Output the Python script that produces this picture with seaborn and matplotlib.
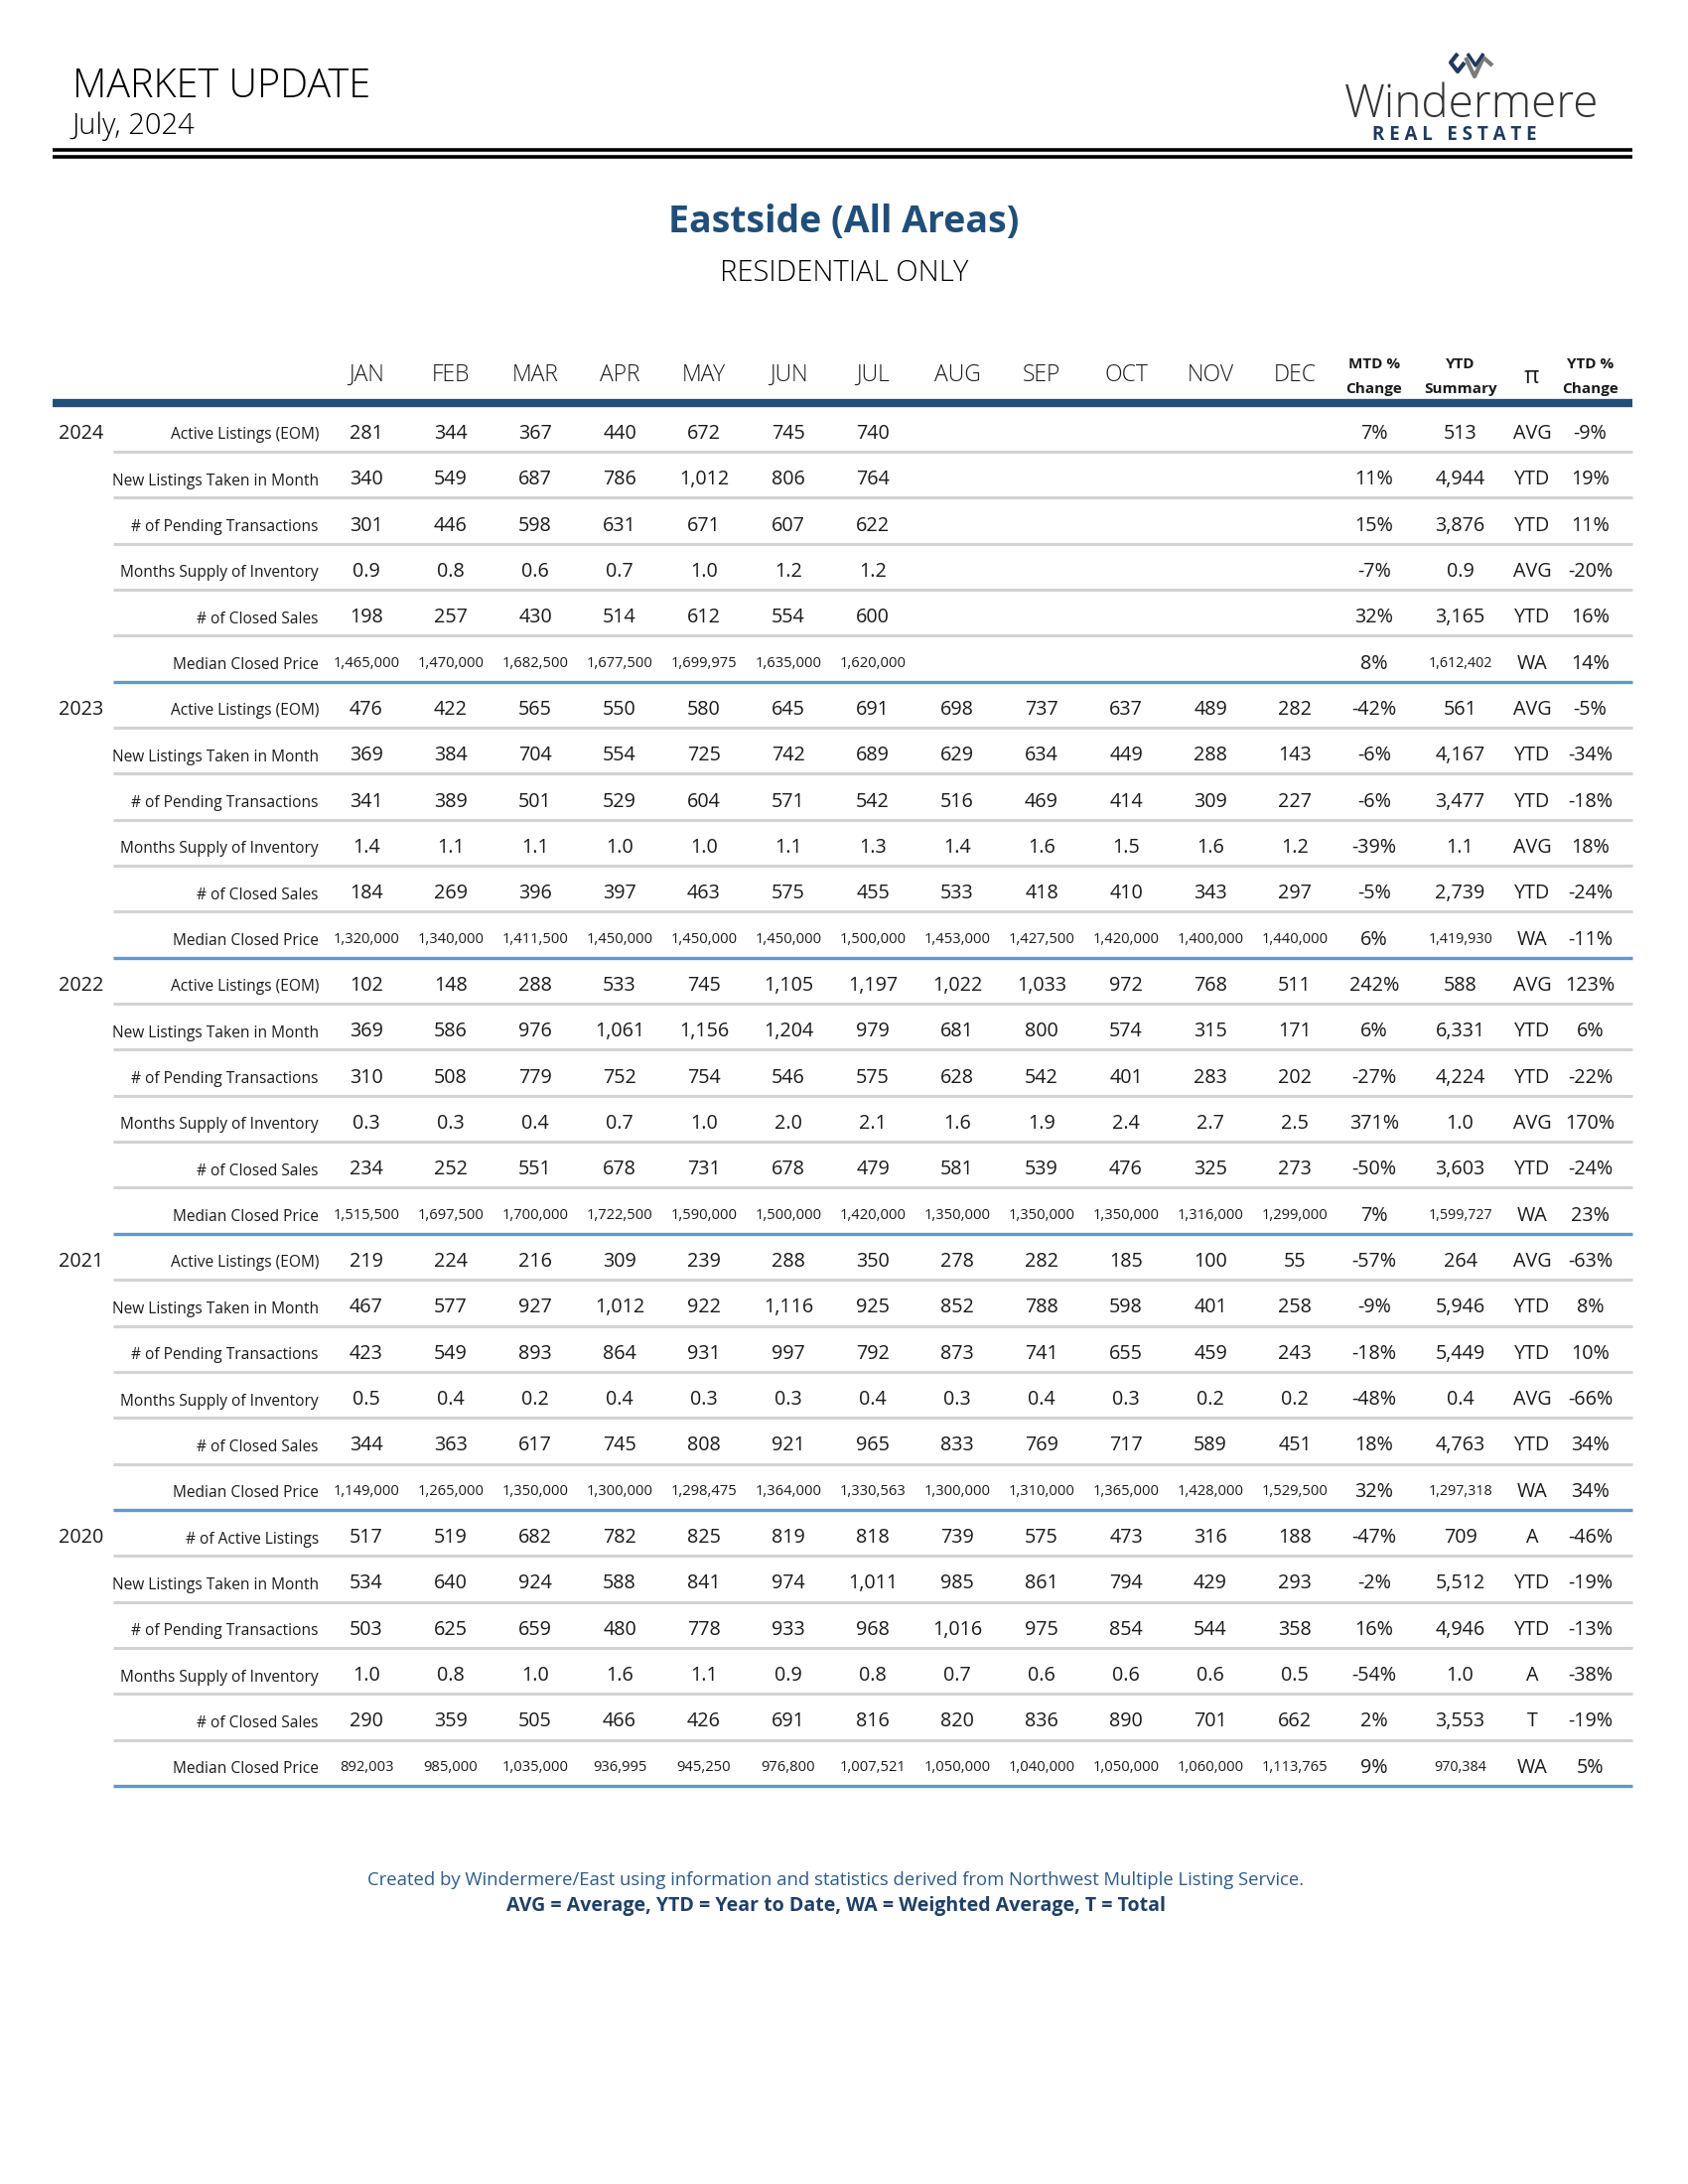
import numpy as np
import seaborn as sns
import matplotlib.pyplot as plt
from matplotlib.colors import ListedColormap

# ---- data ----
months = ["JAN", "FEB", "MAR", "APR", "MAY", "JUN", "JUL", "AUG", "SEP", "OCT", "NOV", "DEC"]
row_names = ["Active Listings (EOM)", "New Listings Taken in Month", "# of Pending Transactions",
             "Months Supply of Inventory", "# of Closed Sales", "Median Closed Price"]
row_names_2020 = ["# of Active Listings"] + row_names[1:]

# 2024 (through July)
active_2024 = [281, 344, 367, 440, 672, 745, 740]
new_2024 = [340, 549, 687, 786, 1012, 806, 764]
pending_2024 = [301, 446, 598, 631, 671, 607, 622]
supply_2024 = [0.9, 0.8, 0.6, 0.7, 1.0, 1.2, 1.2]
closed_2024 = [198, 257, 430, 514, 612, 554, 600]
price_2024 = [1465000, 1470000, 1682500, 1677500, 1699975, 1635000, 1620000]
mtd_2024 = [7, 11, 15, -7, 32, 8]
ytd_2024 = [513, 4944, 3876, 0.9, 3165, 1612402]
kind_2024 = ["AVG", "YTD", "YTD", "AVG", "YTD", "WA"]
ytdpct_2024 = [-9, 19, 11, -20, 16, 14]

# 2023
active_2023 = [476, 422, 565, 550, 580, 645, 691, 698, 737, 637, 489, 282]
new_2023 = [369, 384, 704, 554, 725, 742, 689, 629, 634, 449, 288, 143]
pending_2023 = [341, 389, 501, 529, 604, 571, 542, 516, 469, 414, 309, 227]
supply_2023 = [1.4, 1.1, 1.1, 1.0, 1.0, 1.1, 1.3, 1.4, 1.6, 1.5, 1.6, 1.2]
closed_2023 = [184, 269, 396, 397, 463, 575, 455, 533, 418, 410, 343, 297]
price_2023 = [1320000, 1340000, 1411500, 1450000, 1450000, 1450000, 1500000, 1453000,
              1427500, 1420000, 1400000, 1440000]
mtd_2023 = [-42, -6, -6, -39, -5, 6]
ytd_2023 = [561, 4167, 3477, 1.1, 2739, 1419930]
kind_2023 = ["AVG", "YTD", "YTD", "AVG", "YTD", "WA"]
ytdpct_2023 = [-5, -34, -18, 18, -24, -11]

# 2022
active_2022 = [102, 148, 288, 533, 745, 1105, 1197, 1022, 1033, 972, 768, 511]
new_2022 = [369, 586, 976, 1061, 1156, 1204, 979, 681, 800, 574, 315, 171]
pending_2022 = [310, 508, 779, 752, 754, 546, 575, 628, 542, 401, 283, 202]
supply_2022 = [0.3, 0.3, 0.4, 0.7, 1.0, 2.0, 2.1, 1.6, 1.9, 2.4, 2.7, 2.5]
closed_2022 = [234, 252, 551, 678, 731, 678, 479, 581, 539, 476, 325, 273]
price_2022 = [1515500, 1697500, 1700000, 1722500, 1590000, 1500000, 1420000, 1350000,
              1350000, 1350000, 1316000, 1299000]
mtd_2022 = [242, 6, -27, 371, -50, 7]
ytd_2022 = [588, 6331, 4224, 1.0, 3603, 1599727]
kind_2022 = ["AVG", "YTD", "YTD", "AVG", "YTD", "WA"]
ytdpct_2022 = [123, 6, -22, 170, -24, 23]

# 2021
active_2021 = [219, 224, 216, 309, 239, 288, 350, 278, 282, 185, 100, 55]
new_2021 = [467, 577, 927, 1012, 922, 1116, 925, 852, 788, 598, 401, 258]
pending_2021 = [423, 549, 893, 864, 931, 997, 792, 873, 741, 655, 459, 243]
supply_2021 = [0.5, 0.4, 0.2, 0.4, 0.3, 0.3, 0.4, 0.3, 0.4, 0.3, 0.2, 0.2]
closed_2021 = [344, 363, 617, 745, 808, 921, 965, 833, 769, 717, 589, 451]
price_2021 = [1149000, 1265000, 1350000, 1300000, 1298475, 1364000, 1330563, 1300000,
              1310000, 1365000, 1428000, 1529500]
mtd_2021 = [-57, -9, -18, -48, 18, 32]
ytd_2021 = [264, 5946, 5449, 0.4, 4763, 1297318]
kind_2021 = ["AVG", "YTD", "YTD", "AVG", "YTD", "WA"]
ytdpct_2021 = [-63, 8, 10, -66, 34, 34]

# 2020
active_2020 = [517, 519, 682, 782, 825, 819, 818, 739, 575, 473, 316, 188]
new_2020 = [534, 640, 924, 588, 841, 974, 1011, 985, 861, 794, 429, 293]
pending_2020 = [503, 625, 659, 480, 778, 933, 968, 1016, 975, 854, 544, 358]
supply_2020 = [1.0, 0.8, 1.0, 1.6, 1.1, 0.9, 0.8, 0.7, 0.6, 0.6, 0.6, 0.5]
closed_2020 = [290, 359, 505, 466, 426, 691, 816, 820, 836, 890, 701, 662]
price_2020 = [892003, 985000, 1035000, 936995, 945250, 976800, 1007521, 1050000,
              1040000, 1050000, 1060000, 1113765]
mtd_2020 = [-47, -2, 16, -54, 2, 9]
ytd_2020 = [709, 5512, 4946, 1.0, 3553, 970384]
kind_2020 = ["A", "YTD", "YTD", "A", "T", "WA"]
ytdpct_2020 = [-46, -19, -13, -38, -19, 5]

blocks = [
    (2024, row_names, [active_2024, new_2024, pending_2024, supply_2024, closed_2024, price_2024],
     mtd_2024, ytd_2024, kind_2024, ytdpct_2024),
    (2023, row_names, [active_2023, new_2023, pending_2023, supply_2023, closed_2023, price_2023],
     mtd_2023, ytd_2023, kind_2023, ytdpct_2023),
    (2022, row_names, [active_2022, new_2022, pending_2022, supply_2022, closed_2022, price_2022],
     mtd_2022, ytd_2022, kind_2022, ytdpct_2022),
    (2021, row_names, [active_2021, new_2021, pending_2021, supply_2021, closed_2021, price_2021],
     mtd_2021, ytd_2021, kind_2021, ytdpct_2021),
    (2020, row_names_2020, [active_2020, new_2020, pending_2020, supply_2020, closed_2020, price_2020],
     mtd_2020, ytd_2020, kind_2020, ytdpct_2020),
]

# ---- build the annotation grid ----
def fmt(v, k):
    return "{:.1f}".format(v) if k == 3 else "{:,}".format(v)

cells, labels, years = [], [], []
for yr, names, series, mtd, ytd, kind, ytdpct in blocks:
    for k in range(6):
        vals = [fmt(v, k) for v in series[k]]
        vals += [""] * (12 - len(vals))
        vals += ["{}%".format(mtd[k]), fmt(ytd[k], k), kind[k], "{}%".format(ytdpct[k])]
        cells.append(vals)
        labels.append(names[k])
        years.append(str(yr) if k == 0 else "")
annot = np.array(cells)
nrows = len(cells)

# ---- style ----
sns.set_theme(style="white")
plt.rcParams["font.family"] = ["Open Sans", "DejaVu Sans"]

NAVY = "#22507a"
BLUE_LINE = "#6596cc"
GRAY_LINE = "#d3d3d3"
TXT = "#1a1a1a"
LIGHT = "light"

fig = plt.figure(figsize=(17, 22), dpi=100)

# table axes: x in column units (85 px each), y in row units (46.34 px each)
ax = fig.add_axes([53 / 1700, 1 - 1804 / 2200, (1644 - 53) / 1700, (1804 - 413.8) / 2200])
sns.heatmap(np.zeros(annot.shape), annot=annot, fmt="", cmap=ListedColormap(["white"]),
            cbar=False, xticklabels=False, yticklabels=False, ax=ax,
            annot_kws={"fontsize": 14.2, "color": TXT})
ax.set_xlim(-3.218, 15.5)
ax.set_ylim(nrows, 0)
ax.set_axis_off()

summary_x = [12.44, 13.46, 14.31, 15.0]
for t in ax.texts:
    x, y = t.get_position()
    j, i = int(x), int(y)
    if j >= 12:
        t.set_x(summary_x[j - 12])
    if i % 6 == 5 and (j < 12 or j == 13):
        t.set_fontsize(10.6 if j < 12 else 10.3)

# column headers
for j, m in enumerate(months):
    ax.text(j + 0.5, -0.78, m, ha="center", va="center", fontsize=16.5, color=TXT,
            fontweight=LIGHT)
for xx, top, bot in [(summary_x[0], "MTD %", "Change"), (summary_x[1], "YTD", "Summary"),
                     (summary_x[3], "YTD %", "Change")]:
    ax.text(xx, -1.01, top, ha="center", va="center", fontsize=11, fontweight="bold", color=TXT)
    ax.text(xx, -0.47, bot, ha="center", va="center", fontsize=11, fontweight="bold", color=TXT)
ax.text(summary_x[2], -0.72, "π", ha="center", va="center", fontsize=17, color=TXT)

# row labels and years
for i in range(nrows):
    ax.text(-0.065, i + 0.53, labels[i], ha="right", va="center", fontsize=11.2, color=TXT)
    if years[i]:
        ax.text(-2.876, i + 0.5, years[i], ha="center", va="center", fontsize=14.2, color=TXT)

# rules
ax.plot([-3.218, 15.5], [-0.17, -0.17], color=NAVY, lw=6, clip_on=False, solid_capstyle="butt")
for i in range(nrows):
    last = i % 6 == 5
    ax.plot([-2.5, 15.5], [i + 0.89, i + 0.89], color=BLUE_LINE if last else GRAY_LINE,
            lw=2.4 if last else 2.2, clip_on=False, solid_capstyle="butt")

# ---- page furniture ----
page = fig.add_axes([0, 0, 1, 1])
page.set_xlim(0, 1700)
page.set_ylim(2200, 0)
page.set_axis_off()
page.patch.set_alpha(0)

page.text(73, 88, "MARKET UPDATE", ha="left", va="center", fontsize=28.5, color="black",
          fontweight=LIGHT)
page.text(73, 127, "July, 2024", ha="left", va="center", fontsize=21, color="black",
          fontweight=LIGHT)
page.plot([53, 1644], [151, 151], color="black", lw=2.6, solid_capstyle="butt")
page.plot([53, 1644], [158, 158], color="black", lw=2.6, solid_capstyle="butt")

# logo
page.plot([1468, 1461, 1468, 1475], [54, 63, 72, 63], color="#1f3a5f", lw=3, solid_capstyle="butt")
page.plot([1476, 1485, 1494, 1503], [58, 77, 58, 66], color="#7a7a7a", lw=3, solid_capstyle="butt")
page.plot([1478, 1486, 1494], [54, 66, 54], color="#1f3a5f", lw=2.5, solid_capstyle="butt")
page.text(1482, 106, "Windermere", ha="center", va="center", fontsize=33, color="#333333",
          fontweight=LIGHT)
page.text(1465, 136, "R E A L   E S T A T E", ha="center", va="center", fontsize=13.5,
          fontweight="bold", color="#1f3a5f")

page.text(850, 224, "Eastside (All Areas)", ha="center", va="center", fontsize=27,
          fontweight="bold", color="#1f4e79")
page.text(850, 275, "RESIDENTIAL ONLY", ha="center", va="center", fontsize=21, color="black",
          fontweight=LIGHT)

page.text(842, 1894, "Created by Windermere/East using information and statistics derived from "
          "Northwest Multiple Listing Service.", ha="center", va="center", fontsize=13.3,
          color="#2f5b8a")
page.text(842, 1920, "AVG = Average, YTD = Year to Date, WA = Weighted Average, T = Total",
          ha="center", va="center", fontsize=14, fontweight="bold", color="#1f3f66")

fig.savefig("out.png", dpi=100, facecolor="white")
